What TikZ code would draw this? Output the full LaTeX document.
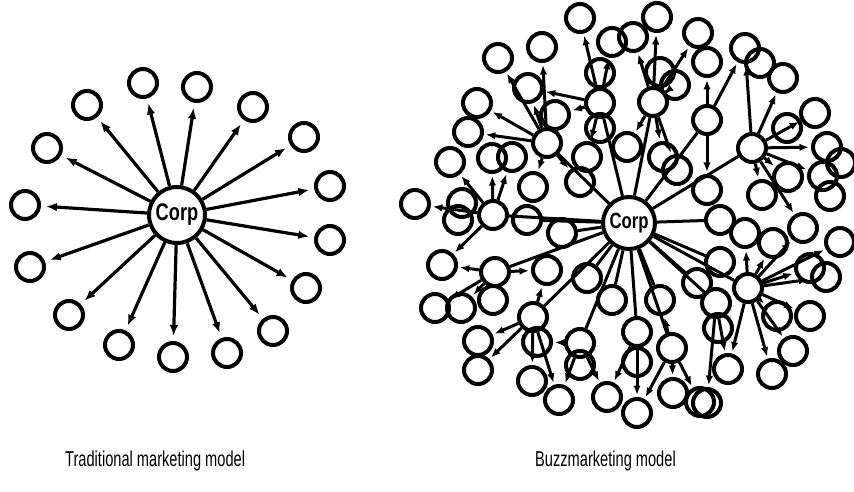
\documentclass[tikz,border=0pt]{standalone}
\usepackage{fontspec}
\setmainfont{Liberation Sans}
\newfontfamily\capfont[FakeStretch=0.68]{Liberation Sans}
\newfontfamily\corpfont[FakeStretch=0.76]{Liberation Sans}
\usetikzlibrary{arrows.meta}

\tikzset{
  person/.style={circle, draw, line width=4pt, minimum size=28pt, inner sep=0pt},
  corpnode/.style={circle, draw, line width=4pt, inner sep=0pt,
    font=\corpfont\bfseries\fontsize{#1}{#1}\selectfont},
  push/.style={line width=3.2pt, -{Latex[length=11pt,width=8.5pt]}, shorten >=5pt},
  relay/.style={line width=3pt, -{Latex[length=9.5pt,width=7.5pt]}, shorten >=2pt},
  spoke/.style={line width=3pt},
  caption/.style={anchor=base west, inner sep=0pt, font=\capfont\fontsize{21.5}{21.5}\selectfont},
}

\begin{document}
\begin{tikzpicture}[x=1pt, y=-1pt]
  \useasboundingbox (0,0) rectangle (854,492);

  % ---------- traditional model: one sender, every receiver reached directly
  \node[corpnode=24, minimum size=56pt] (corpL) at (177,215) {Corp};
  \foreach \n/\x/\y in {t1/87/105, t2/143/83, t3/197/87, t4/253/107,
                        t5/304/137, t6/330/186, t7/330/240, t8/306/288,
                        t9/273/331, t10/227/353, t11/173/357, t12/119/345,
                        t13/69/315, t14/30/267, t15/25/205, t16/47/148}
    \node[person] (\n) at (\x,\y) {};
  \foreach \n in {t1,t2,t3,t4,t5,t6,t7,t8,t9,t10,t11,t12,t13,t14,t15,t16}
    \draw[push] (corpL) -- (\n);

  \node[caption] (capL) at (65,466) {Traditional marketing model};

  % ---------- buzz model: the message is passed on from person to person
  \node[corpnode=22, minimum size=52pt] (corpR) at (629,223) {Corp};

  % first ring of receivers (relay points)
  \foreach \n/\x/\y in {ha/600/103, hb/653/102, hc/707/120, hd/752/148,
                        he/547/143, hf/493/215, hg/495/272, hh/533/317,
                        hi/580/343, hj/637/332, hk/672/348, hl/748/288,
                        hm/716/303, hn/720/262}
    \node[person] (\n) at (\x,\y) {};

  % everyone they reach
  \foreach \n/\x/\y in {
      a1/580/18, a2/612/42, a3/600/73, a4/555/115, a5/600/128, a6/587/157,
      b1/633/37, b2/657/17, b3/660/72, b4/675/85, b5/627/147, b6/663/157, b7/677/170,
      c1/698/33, c2/707/62, c3/707/190,
      d1/745/48, d2/760/63, d3/783/78, d4/815/113, d5/787/128, d6/827/147,
      d7/841/163, d8/823/176, d9/830/196, d10/788/177, d11/762/195,
      e1/542/47, e2/528/88, e3/498/58, e4/477/103, e5/468/132, e6/580/182, e7/533/187,
      f1/450/162, f2/492/158, f3/512/157, f4/415/204, f5/462/203, f6/458/220,
      f7/527/220, f8/442/265,
      g1/435/308, g2/461/308, g3/493/300, g4/547/270, g5/562/233,
      h1/478/341, h2/478/370, h3/537/342, h4/532/381, h5/559/400,
      i1/580/365, i2/607/397, i3/587/278,
      j1/637/362, j2/637/413, j3/612/300,
      k1/673/393, k2/700/402, k3/660/300, k4/697/283,
      l1/745/233, l2/773/243, l3/803/228, l4/840/242, l5/810/268, l6/826/277,
      l7/777/316, l8/810/316, l9/793/351, l10/772/374, l11/728/369,
      m1/718/328, m2/707/403, n1/720/220}
    \node[person] (\n) at (\x,\y) {};

  % spokes leaving the sender
  \foreach \n in {ha,hb,hc,hd,he,hf,hg,hh,hi,hj,hk,hl,hm,hn,g5,i3,j3,k3,k4,n1,f7}
    \draw[spoke] (corpR) -- (\n);

  % word of mouth
  \foreach \s/\t in {
      ha/a1, ha/a2, ha/a4, ha/a6, ha/e2,
      hb/b1, hb/b2, hb/b4, hb/b5, hb/b6, hb/b7, hb/c1,
      hc/c2, hc/c3, hc/d1,
      hd/d1, hd/d3, hd/d4, hd/d6, hd/d8, hd/d10, hd/d11, hd/l3,
      he/e1, he/e2, he/e3, he/e4, he/e5, he/e6, he/e7,
      hf/f1, hf/f2, hf/f3, hf/f4, hf/f8,
      hg/f8, hg/g1, hg/g2, hg/g4,
      hh/h1, hh/h2, hh/h4, hh/h5, hh/g4,
      hi/i2, hi/h5, hi/h3,
      hj/j2, hj/i2,
      hk/k1, hk/k2, hk/j2, hk/k3,
      hl/l1, hl/l2, hl/l3, hl/l4, hl/l5, hl/l6, hl/l7, hl/l8, hl/l9, hl/l10, hl/l11,
      hm/m2, hm/l11}
    \draw[relay] (\s) -- (\t);

  \node[caption] (capR) at (535,466) {Buzzmarketing model};
\end{tikzpicture}
\end{document}
